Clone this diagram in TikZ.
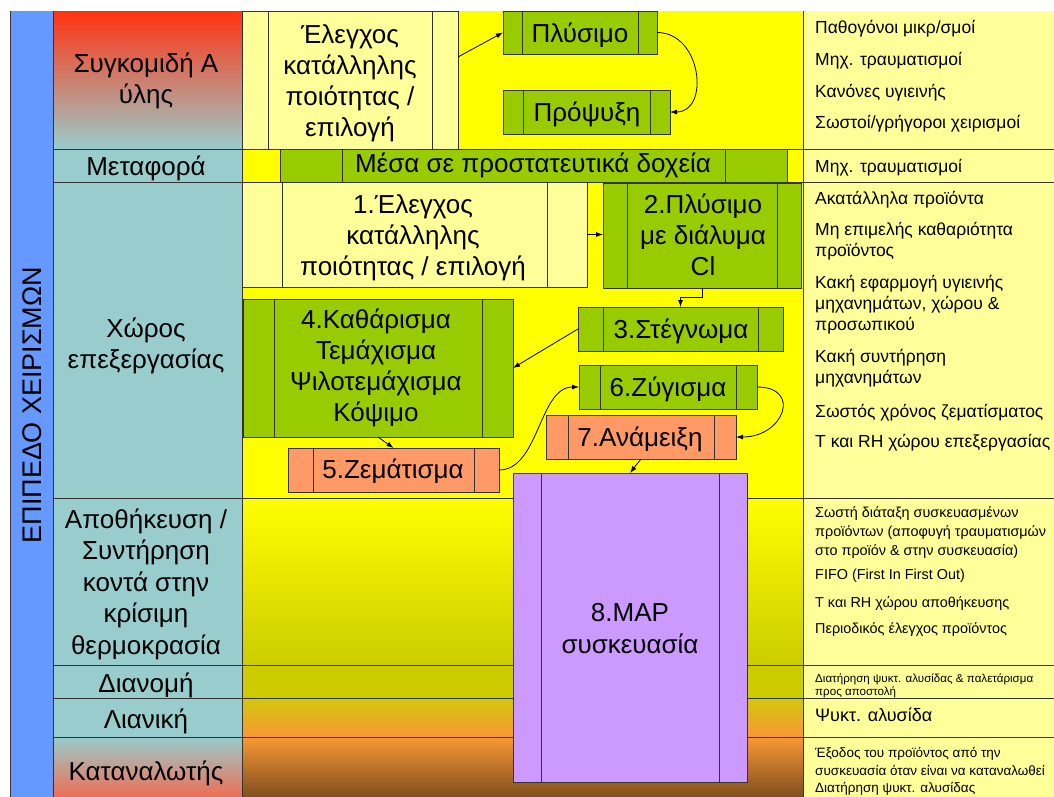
\documentclass[tikz,border=0pt]{standalone}
\usepackage{fontspec}
\setmainfont{Liberation Sans}
\usetikzlibrary{arrows.meta}

\definecolor{bar}{HTML}{6699FF}
\definecolor{cellteal}{HTML}{99CCCC}
\definecolor{harvest}{HTML}{FF3311}
\definecolor{consumer}{HTML}{F26A4E}
\definecolor{lane}{HTML}{FFFF00}
\definecolor{notefill}{HTML}{FFFF99}
\definecolor{olivelane}{HTML}{CCCC00}
\definecolor{olivetop}{HTML}{D2C80A}
\definecolor{amber}{HTML}{F99833}
\definecolor{umber}{HTML}{7A4A1E}
\definecolor{leaf}{HTML}{99CC00}
\definecolor{salmonbox}{HTML}{FF9966}
\definecolor{lilac}{HTML}{CC99FF}
\definecolor{ink}{HTML}{333333}

\begin{document}
\begin{tikzpicture}[x=1pt, y=-1pt,
  rule/.style={draw=ink, line width=0.7pt},
  proc/.style={draw=ink, line width=0.7pt, inner sep=0pt, outer sep=0pt,
    path picture={\draw[ink, line width=0.7pt]
      ([xshift=#1pt]path picture bounding box.north west) -- ([xshift=#1pt]path picture bounding box.south west)
      ([xshift=-#1pt]path picture bounding box.north east) -- ([xshift=-#1pt]path picture bounding box.south east);}},
  boxtxt/.style={anchor=north, align=center, inner sep=0pt,
    font=\fontsize{26}{31}\selectfont, execute at begin node={\rule{0pt}{0.8em}}},
  lab/.style={anchor=north, align=center, inner sep=0pt,
    font=\fontsize{26}{31}\selectfont, execute at begin node={\rule{0pt}{0.8em}}},
  notes/.style={anchor=north west, align=left, inner sep=0pt,
    execute at begin node={\rule{0pt}{0.8em}}},
  big/.style={font=\fontsize{17.5}{21}\selectfont},
  mid/.style={font=\fontsize{14.4}{19}\selectfont},
  flow/.style={draw=black, line width=0.8pt, -{Latex[length=7pt,width=5pt]}}
]
\useasboundingbox (0,0) rectangle (1054,796);
\clip (0,0) rectangle (1054,796);

% ---------- backgrounds ----------
% stage labels column
\fill[top color=harvest, bottom color=cellteal] (53,11) rectangle (242,149);
\fill[cellteal] (53,149) rectangle (242,737);
\fill[top color=cellteal, bottom color=consumer] (53,737) rectangle (242,800);
% process lane
\fill[lane] (242,11) rectangle (803,498);
\fill[top color=lane, bottom color=olivelane] (242,498) rectangle (803,665);
\fill[olivelane] (242,665) rectangle (803,698);
\fill[top color=olivetop, bottom color=amber] (242,698) rectangle (803,737);
\fill[top color=amber, bottom color=umber] (242,737) rectangle (803,800);
% hazards column
\fill[notefill] (803,11) rectangle (1054,800);
% side bar
\fill[bar] (10,11) rectangle (53,800);

% ---------- grid ----------
\foreach \yy in {149,182,498,665,698,737}
  \draw[rule] (53,\yy) -- (1054,\yy);
\foreach \xx in {10,53,242,803}
  \draw[rule] (\xx,11) -- (\xx,800);

% ---------- side bar and stage labels ----------
\node[rotate=90, font=\fontsize{27}{30}\selectfont] (side) at (32,405) {ΕΠΙΠΕΔΟ ΧΕΙΡΙΣΜΩΝ};
\node[lab] (L1) at (146,53.2) {Συγκομιδή Α\\ύλης};
\node[lab] (L2) at (146,154.2) {Μεταφορά};
\node[lab] (L3) at (146,318.2) {Χώρος\\επεξεργασίας};
\node[lab, font=\fontsize{26}{31.5}\selectfont] (L4) at (146,508.2) {Αποθήκευση /\\Συντήρηση\\κοντά στην\\κρίσιμη\\θερμοκρασία};
\node[lab] (L5) at (146,671.2) {Διανομή};
\node[lab] (L6) at (146,707.2) {Λιανική};
\node[lab] (L7) at (146,759.2) {Καταναλωτής};

% ---------- process boxes ----------
\node[proc=26, fill=notefill, minimum width=216pt, minimum height=138pt] (e0) at (350,80) {};
\node[proc=19, fill=leaf, minimum width=154pt, minimum height=43pt] (p0) at (580,32.5) {};
\node[proc=20, fill=leaf, minimum width=167pt, minimum height=44pt] (r0) at (586.5,112) {};
\node[proc=62, fill=leaf, minimum width=507pt, minimum height=33pt] (m0) at (533.5,165.5) {};
\node[proc=40, fill=notefill, minimum width=345pt, minimum height=105pt] (b1) at (414.5,234.5) {};
\node[proc=24, fill=leaf, minimum width=198pt, minimum height=105pt] (b2) at (702,235.5) {};
\node[proc=25, fill=leaf, minimum width=205pt, minimum height=44pt] (b3) at (680.5,329) {};
\node[proc=31, fill=leaf, minimum width=270pt, minimum height=138pt] (b4) at (378,368) {};
\node[proc=25, fill=salmonbox, minimum width=211pt, minimum height=44pt] (b5) at (393.5,470) {};
\node[proc=21, fill=leaf, minimum width=178pt, minimum height=44pt] (b6) at (668,387) {};
\node[proc=22, fill=salmonbox, minimum width=190pt, minimum height=44pt] (b7) at (641,437) {};
\node[proc=28, fill=lilac, minimum width=234pt, minimum height=309pt] (b8) at (630,627.5) {};

% box texts
\node[boxtxt] (e0t) at (350,24.2) {Έλεγχος\\κατάλληλης\\ποιότητας /\\επιλογή};
\node[boxtxt] (p0t) at (580,21.2) {Πλύσιμο};
\node[boxtxt] (r0t) at (587,100.2) {Πρόψυξη};
\node[boxtxt] (m0t) at (533,151.2) {Μέσα σε προστατευτικά δοχεία};
\node[boxtxt] (b1t) at (413,194.2) {1.Έλεγχος\\κατάλληλης\\ποιότητας / επιλογή};
\node[boxtxt] (b2t) at (703,194.2) {2.Πλύσιμο\\με διάλυμα\\Cl};
\node[boxtxt] (b3t) at (681,317.2) {3.Στέγνωμα};
\node[boxtxt] (b4t) at (376,309.2) {4.Καθάρισμα\\Τεμάχισμα\\Ψιλοτεμάχισμα\\Κόψιμο};
\node[boxtxt] (b5t) at (393,457.2) {5.Ζεμάτισμα};
\node[boxtxt] (b6t) at (668,375.2) {6.Ζύγισμα};
\node[boxtxt] (b7t) at (640,425.2) {7.Ανάμειξη};
\node[boxtxt, font=\fontsize{26}{32}\selectfont] (b8t) at (630,603.2) {8.MAP\\συσκευασία};

% ---------- flow ----------
\coordinate (e0out) at ([yshift=23pt]e0.east);
\draw[flow] (e0out) -- (p0.west);
\draw[flow] (p0.east) .. controls +(45,0) and +(40,0) .. (r0.east);
\draw[flow] (b1.east) -- (b1.east -| b2.west);
\draw[flow] (b2.south) -- ++(0,9) -| (b3.north);
\draw[flow] (b3.west) -- (b4.east);
\draw[flow] (b4.south) -- (b5.north);
\draw[flow] (b5.east) .. controls +(40,0) and +(-40,0) .. (b6.west);
\draw[flow] (b6.east) .. controls +(45,0) and +(48,0) .. (b7.east);
\draw[flow] (b7.south) -- (b8.north);

% ---------- hazards and controls ----------
\node[notes, big] (h1) at (815,19) {Παθογόνοι μικρ/σμοί};
\node[notes, big] (h2) at (815,51) {Μηχ. τραυματισμοί};
\node[notes, big] (h3) at (815,83) {Κανόνες υγιεινής};
\node[notes, big] (h4) at (815,114) {Σωστοί/γρήγοροι χειρισμοί};
\node[notes, big] (h5) at (815,158) {Μηχ. τραυματισμοί};
\node[notes, big] (h6) at (815,190) {Ακατάλληλα προϊόντα};
\node[notes, big] (h7) at (815,222) {Μη επιμελής καθαριότητα\\προϊόντος};
\node[notes, big] (h8) at (815,275) {Κακή εφαρμογή υγιεινής\\μηχανημάτων, χώρου \&\\προσωπικού};
\node[notes, big] (h9) at (815,349) {Κακή συντήρηση\\μηχανημάτων};
\node[notes, big] (h10) at (815,403) {Σωστός χρόνος ζεματίσματος};
\node[notes, big] (h11) at (815,433) {Τ και RH χώρου επεξεργασίας};
\node[notes, mid] (h12) at (815,506.5) {Σωστή διάταξη συσκευασμένων\\προϊόντων (αποφυγή τραυματισμών\\στο προϊόν \& στην συσκευασία)};
\node[notes, mid] (h13) at (815,567.5) {FIFO (First In First Out)};
\node[notes, mid] (h14) at (815,595.5) {Τ και RH χώρου αποθήκευσης};
\node[notes, mid] (h15) at (815,621.5) {Περιοδικός έλεγχος προϊόντος};
\node[notes, font=\fontsize{11.6}{12.5}\selectfont] (h16) at (815,673.7) {Διατήρηση ψυκτ. αλυσίδας \& παλετάρισμα\\προς αποστολή};
\node[notes, font=\fontsize{18}{22}\selectfont] (h17) at (815,706.6) {Ψυκτ. αλυσίδα};
\node[notes, font=\fontsize{13.5}{17.5}\selectfont] (h18) at (815,747.2) {Έξοδος του προϊόντος από την\\συσκευασία όταν είναι να καταναλωθεί};
\node[notes, font=\fontsize{13.5}{17.5}\selectfont] (h19) at (815,781) {Διατήρηση ψυκτ. αλυσίδας};
\end{tikzpicture}
\end{document}
